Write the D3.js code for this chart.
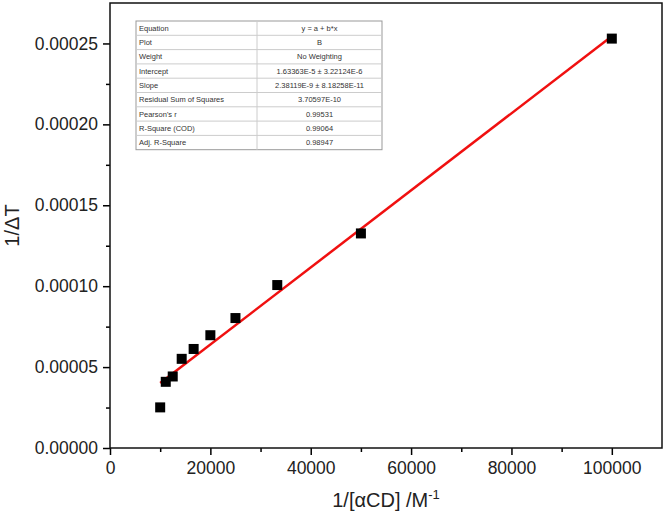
<!DOCTYPE html>
<html>
<head>
<meta charset="utf-8">
<script src="https://cdn.jsdelivr.net/npm/d3@7"></script>
<style>
  body { margin: 0; background: #fff; }
  svg { display: block; font-family: "Liberation Sans", Arial, sans-serif; }
</style>
</head>
<body>
<svg width="666" height="521"></svg>
<script>
// data
var xValues = [10000, 11111, 12500, 14286, 16667, 20000, 25000, 33333, 50000, 100000];
var yValues = [0.0000251, 0.0000409, 0.0000442, 0.0000551, 0.0000612, 0.0000697, 0.0000803, 0.0001007, 0.0001326, 0.000253];
var fitIntercept = 1.633636e-5,
    fitSlope = 2.381196e-9;
var xTicks = [0, 20000, 40000, 60000, 80000, 100000];
var yTicks = [0, 0.00005, 0.0001, 0.00015, 0.0002, 0.00025];
var tableLabels = ["Equation", "Plot", "Weight", "Intercept", "Slope", "Residual Sum of Squares", "Pearson's r", "R-Square (COD)", "Adj. R-Square"];
var tableValues = ["y = a + b*x", "B", "No Weighting", "1.63363E-5 \u00b1 3.22124E-6", "2.38119E-9 \u00b1 8.18258E-11", "3.70597E-10", "0.99531", "0.99064", "0.98947"];

var svg = d3.select("svg");
var margin = {left: 110, right: 4, top: 3, bottom: 73};
var width = 666 - margin.left - margin.right,
    height = 521 - margin.top - margin.bottom;

var x = d3.scaleLinear().domain([0, 110000]).range([0, width]);
var y = d3.scaleLinear().domain([0, 0.000275]).range([height, 0]);

var g = svg.append("g").attr("transform", "translate(" + margin.left + "," + margin.top + ")");

// minor ticks
g.append("g")
    .attr("transform", "translate(0," + height + ")")
    .call(d3.axisBottom(x).tickValues(d3.range(10000, 110000, 20000)).tickSize(4).tickFormat(""))
    .call(function(a) { a.select(".domain").remove(); a.selectAll("line").attr("stroke-width", 1.5); });
g.append("g")
    .call(d3.axisLeft(y).tickValues(d3.range(0.000025, 0.000275, 0.00005)).tickSize(4).tickFormat(""))
    .call(function(a) { a.select(".domain").remove(); a.selectAll("line").attr("stroke-width", 1.5); });

// major ticks
var xAxis = g.append("g")
    .attr("transform", "translate(0," + height + ")")
    .call(d3.axisBottom(x).tickValues(xTicks).tickSize(7).tickPadding(7).tickFormat(d3.format("d")));
var yAxis = g.append("g")
    .call(d3.axisLeft(y).tickValues(yTicks).tickSize(7).tickPadding(5).tickFormat(d3.format(".5f")));
[xAxis, yAxis].forEach(function(a) {
    a.select(".domain").remove();
    a.selectAll("line").attr("stroke-width", 1.5);
    a.selectAll("text").attr("font-size", 17.5).attr("fill", "#222")
        .attr("font-family", "'Liberation Sans', Arial, sans-serif");
});

// frame
g.append("rect")
    .attr("width", width).attr("height", height)
    .attr("fill", "none").attr("stroke", "#111").attr("stroke-width", 1.5);

// fit line
var xMin = d3.min(xValues), xMax = d3.max(xValues);
g.append("line")
    .attr("x1", x(xMin)).attr("y1", y(fitIntercept + fitSlope * xMin))
    .attr("x2", x(xMax)).attr("y2", y(fitIntercept + fitSlope * xMax))
    .attr("stroke", "#f01010").attr("stroke-width", 2.5);

// points
var pts = xValues.map(function(d, i) { return {x: d, y: yValues[i]}; });
g.selectAll(".pt")
    .data(pts)
    .enter()
        .append("rect")
        .attr("class", "pt")
        .attr("x", function(d) { return x(d.x) - 5; })
        .attr("y", function(d) { return y(d.y) - 5; })
        .attr("width", 10)
        .attr("height", 10)
        .attr("fill", "#000");

// fit table
var tx = 136, ty = 21, col = 121, tw = 246, rh = 14.3;
var table = svg.append("g").attr("transform", "translate(" + tx + "," + ty + ")");
table.append("rect")
    .attr("width", tw).attr("height", rh * tableLabels.length)
    .attr("fill", "#fff").attr("stroke", "#999").attr("stroke-width", 1);
table.selectAll(".hline")
    .data(d3.range(1, tableLabels.length))
    .enter()
        .append("line")
        .attr("x1", 0).attr("x2", tw)
        .attr("y1", function(d) { return d * rh; })
        .attr("y2", function(d) { return d * rh; })
        .attr("stroke", "#ccc").attr("stroke-width", 1);
table.append("line")
    .attr("x1", col).attr("x2", col).attr("y1", 0).attr("y2", rh * tableLabels.length)
    .attr("stroke", "#ccc").attr("stroke-width", 1);
table.selectAll(".lab")
    .data(tableLabels)
    .enter()
        .append("text")
        .attr("x", 3)
        .attr("y", function(d, i) { return i * rh + rh / 2 + 2.6; })
        .attr("font-size", 7.5).attr("fill", "#333")
        .text(function(d) { return d; });
table.selectAll(".val")
    .data(tableValues)
    .enter()
        .append("text")
        .attr("x", col + (tw - col) / 2)
        .attr("y", function(d, i) { return i * rh + rh / 2 + 2.6; })
        .attr("text-anchor", "middle")
        .attr("font-size", 7.5).attr("fill", "#333")
        .text(function(d) { return d; });

// axis titles
var xt = svg.append("text")
    .attr("x", margin.left + width / 2)
    .attr("y", 507)
    .attr("text-anchor", "middle")
    .attr("font-size", 20).attr("fill", "#222");
xt.append("tspan").text("1/[\u03b1CD] /M");
xt.append("tspan").attr("dy", -8).attr("font-size", 13).text("-1");

svg.append("text")
    .attr("transform", "translate(19," + (margin.top + height / 2) + ") rotate(-90)")
    .attr("text-anchor", "middle")
    .attr("font-size", 20).attr("fill", "#222")
    .text("1/\u0394T");
</script>
</body>
</html>
